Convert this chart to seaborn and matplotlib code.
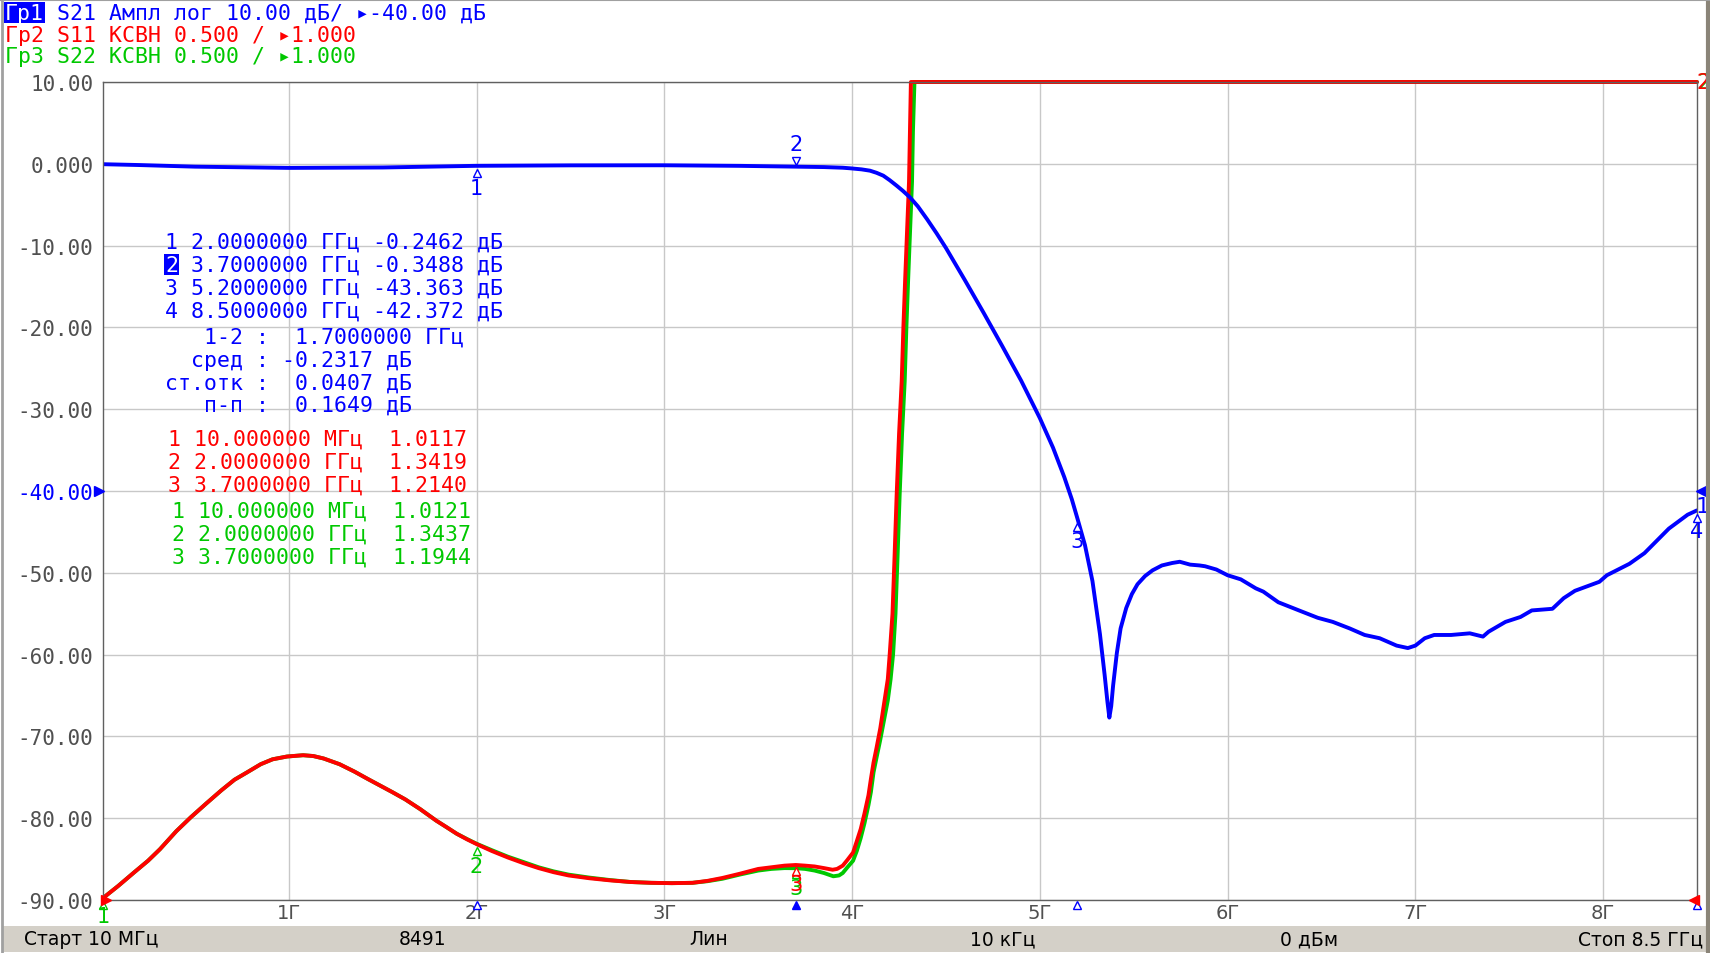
import numpy as np
import pandas as pd
import matplotlib
matplotlib.use("Agg")
import matplotlib.pyplot as plt
import seaborn as sns
from matplotlib.transforms import offset_copy, blended_transform_factory
from matplotlib.patches import Rectangle
from matplotlib.lines import Line2D

# ---------------- data ----------------
s21_freq = [0.01, 0.2, 0.5, 1.0, 1.5, 2.0, 2.5, 3.0, 3.4, 3.7, 3.85, 3.95, 3.99, 4.05, 4.095,
            4.13, 4.166, 4.2, 4.237, 4.27, 4.308, 4.35, 4.4, 4.45, 4.5, 4.6, 4.7, 4.8, 4.9,
            5.0, 5.07, 5.13, 5.17, 5.2, 5.24, 5.28, 5.32, 5.345, 5.36, 5.37, 5.38, 5.39,
            5.41, 5.43, 5.46, 5.49, 5.52, 5.56, 5.6, 5.65, 5.705, 5.745, 5.80, 5.85, 5.88,
            5.94, 6.0, 6.07, 6.15, 6.19, 6.27, 6.38, 6.48, 6.56, 6.65, 6.73, 6.81, 6.90,
            6.96, 7.0, 7.05, 7.10, 7.19, 7.29, 7.36, 7.39, 7.48, 7.56, 7.62, 7.73, 7.79,
            7.85, 7.98, 8.02, 8.14, 8.22, 8.35, 8.45, 8.5]
s21_db = [-0.05, -0.15, -0.35, -0.5, -0.45, -0.246, -0.19, -0.18, -0.25, -0.349, -0.4, -0.48,
          -0.55, -0.68, -0.84, -1.1, -1.45, -2.0, -2.67, -3.3, -4.1, -5.2, -6.8, -8.5, -10.3,
          -14.2, -18.2, -22.3, -26.5, -31.1, -34.7, -38.3, -41.0, -43.36, -46.6, -51.0,
          -57.5, -62.5, -65.8, -67.7, -66.3, -63.8, -59.8, -56.8, -54.3, -52.6, -51.4,
          -50.4, -49.7, -49.1, -48.8, -48.65, -49.0, -49.1, -49.2, -49.6, -50.3, -50.8,
          -51.9, -52.3, -53.6, -54.6, -55.5, -56.0, -56.8, -57.6, -58.0, -58.9, -59.2,
          -58.9, -58.0, -57.6, -57.6, -57.4, -57.8, -57.2, -56.0, -55.4, -54.6, -54.4,
          -53.1, -52.2, -51.1, -50.3, -48.9, -47.6, -44.6, -42.9, -42.37]

s11_freq = [0.01, 0.09, 0.177, 0.25, 0.313, 0.4, 0.477, 0.56, 0.64, 0.71, 0.777, 0.85, 0.913,
            0.99, 1.076, 1.13, 1.185, 1.27, 1.349, 1.42, 1.485, 1.55, 1.62, 1.70, 1.785,
            1.84, 1.894, 1.95, 2.0, 2.08, 2.166, 2.25, 2.33, 2.41, 2.49, 2.6, 2.71, 2.82,
            2.93, 3.04, 3.15, 3.23, 3.31, 3.40, 3.5, 3.57, 3.64, 3.7, 3.75, 3.8, 3.85, 3.896,
            3.92, 3.95, 3.975, 4.005, 4.025, 4.046, 4.066, 4.087, 4.1, 4.114, 4.13, 4.15,
            4.17, 4.19, 4.2, 4.215, 4.226, 4.237, 4.25, 4.264, 4.273, 4.282, 4.293, 4.303,
            4.308, 4.313, 8.5]
s11_vswr = [1.0117, 1.085, 1.17, 1.24, 1.31, 1.42, 1.505, 1.59, 1.67, 1.735, 1.78, 1.83,
            1.86, 1.877, 1.885, 1.88, 1.865, 1.83, 1.785, 1.74, 1.70, 1.66, 1.615, 1.555,
            1.485, 1.445, 1.405, 1.37, 1.3419, 1.30, 1.26, 1.225, 1.195, 1.17, 1.15, 1.133,
            1.12, 1.11, 1.105, 1.103, 1.105, 1.117, 1.135, 1.16, 1.19, 1.20, 1.21, 1.214,
            1.21, 1.205, 1.195, 1.185, 1.19, 1.21, 1.245, 1.29, 1.36, 1.435, 1.53, 1.64,
            1.74, 1.84, 1.93, 2.05, 2.2, 2.35, 2.5, 2.75, 3.1, 3.47, 3.85, 4.17, 4.5, 4.78,
            5.1, 5.39, 5.7, 6.0, 6.0]

s22_freq = [0.01, 0.09, 0.177, 0.25, 0.313, 0.4, 0.477, 0.56, 0.64, 0.71, 0.777, 0.85, 0.913,
            0.99, 1.076, 1.13, 1.185, 1.27, 1.349, 1.42, 1.485, 1.55, 1.62, 1.70, 1.785,
            1.84, 1.894, 1.95, 2.0, 2.08, 2.166, 2.25, 2.33, 2.41, 2.49, 2.6, 2.71, 2.82,
            2.93, 3.04, 3.15, 3.23, 3.31, 3.40, 3.5, 3.57, 3.64, 3.7, 3.75, 3.8, 3.85, 3.9,
            3.93, 3.95, 3.975, 4.005, 4.025, 4.046, 4.066, 4.087, 4.1, 4.114, 4.13, 4.15,
            4.17, 4.19, 4.205, 4.218, 4.231, 4.242, 4.253, 4.266, 4.28, 4.289, 4.298, 4.309,
            4.319, 4.324, 4.332, 8.5]
s22_vswr = [1.0121, 1.085, 1.17, 1.24, 1.31, 1.42, 1.505, 1.59, 1.67, 1.735, 1.78, 1.83,
            1.86, 1.877, 1.885, 1.88, 1.865, 1.83, 1.785, 1.74, 1.70, 1.66, 1.615, 1.555,
            1.485, 1.445, 1.405, 1.372, 1.3437, 1.305, 1.265, 1.232, 1.2, 1.175, 1.155,
            1.137, 1.122, 1.11, 1.105, 1.103, 1.105, 1.115, 1.13, 1.155, 1.18, 1.19, 1.195,
            1.1944, 1.19, 1.18, 1.165, 1.145, 1.15, 1.165, 1.2, 1.24, 1.3, 1.38, 1.47, 1.58,
            1.66, 1.78, 1.87, 1.98, 2.1, 2.22, 2.35, 2.5, 2.75, 3.1, 3.47, 3.85, 4.17, 4.5,
            4.78, 5.1, 5.39, 5.7, 6.0, 6.0]

s21_mk_freq = [2.0, 3.7, 5.2, 8.5]
s21_mk_db = [-0.2462, -0.3488, -43.363, -42.372]
s11_mk_freq = [0.01, 2.0, 3.7]
s11_mk_vswr = [1.0117, 1.3419, 1.2140]
s22_mk_freq = [0.01, 2.0, 3.7]
s22_mk_vswr = [1.0121, 1.3437, 1.1944]

y_ticks = [10, 0, -10, -20, -30, -40, -50, -60, -70, -80, -90]
y_tick_labels = ["10.00", "0.000", "-10.00", "-20.00", "-30.00", "-40.00", "-50.00",
                 "-60.00", "-70.00", "-80.00", "-90.00"]
x_ticks = [1, 2, 3, 4, 5, 6, 7, 8]
x_tick_labels = ["1Г", "2Г", "3Г", "4Г", "5Г", "6Г", "7Г", "8Г"]
vswr_grid = [1.0, 1.5, 2.0, 2.5, 3.0, 3.5, 4.0, 4.5, 5.0, 5.5, 6.0]

header = ["    S21 Ампл лог 10.00 дБ/ ▸-40.00 дБ",
          "Гр2 S11 КСВН 0.500 / ▸1.000",
          "Гр3 S22 КСВН 0.500 / ▸1.000"]
s21_rows = ["1 2.0000000 ГГц -0.2462 дБ",
            "  3.7000000 ГГц -0.3488 дБ",
            "3 5.2000000 ГГц -43.363 дБ",
            "4 8.5000000 ГГц -42.372 дБ"]
stat_rows = ["   1-2 :  1.7000000 ГГц",
             "  сред : -0.2317 дБ",
             "ст.отк :  0.0407 дБ",
             "   п-п :  0.1649 дБ"]
s11_rows = ["1 10.000000 МГц  1.0117",
            "2 2.0000000 ГГц  1.3419",
            "3 3.7000000 ГГц  1.2140"]
s22_rows = ["1 10.000000 МГц  1.0121",
            "2 2.0000000 ГГц  1.3437",
            "3 3.7000000 ГГц  1.1944"]
status = [("Старт 10 МГц", 24, "left"), ("8491", 423, "center"), ("Лин", 709, "center"),
          ("10 кГц", 1003, "center"), ("0 дБм", 1309, "center"), ("Стоп 8.5 ГГц", 1703, "right")]

BLUE = "#0000ff"
RED = "#ff0000"
GREEN = "#00c800"
GRAY = "#505050"

# ---------------- figure ----------------
sns.set_theme(style="white")
plt.rcParams["font.family"] = ["DejaVu Sans Mono", "DejaVu Sans"]

W, H = 1710, 954
fig = plt.figure(figsize=(W / 100, H / 100), dpi=100)
fig.patch.set_facecolor("white")
L, R, T, B = 103, 1697, 83, 901
rect = [L / W, 1 - B / H, (R - L) / W, (B - T) / H]

ax2 = fig.add_axes(rect)            # VSWR traces, grid
ax = fig.add_axes(rect, sharex=ax2)  # dB trace, labels
ax.set_zorder(ax2.get_zorder() + 1)
ax.patch.set_visible(False)
ax2.set_facecolor("white")

ax.set_xlim(0.01, 8.5)
ax.set_ylim(-90, 10)
ax2.set_ylim(1.0, 6.0)

ax2.set_xticks(x_ticks)
ax2.set_yticks(vswr_grid)
ax2.grid(True, color="#c8c8c8", lw=1.0)
ax2.tick_params(labelleft=False, labelbottom=False, length=0)
for s in ax2.spines.values():
    s.set_visible(False)

df22 = pd.DataFrame({"f": s22_freq, "v": s22_vswr})
df11 = pd.DataFrame({"f": s11_freq, "v": s11_vswr})
df21 = pd.DataFrame({"f": s21_freq, "db": s21_db})
sns.lineplot(data=df22, x="f", y="v", ax=ax2, color=GREEN, lw=2.8, estimator=None, sort=False)
sns.lineplot(data=df11, x="f", y="v", ax=ax2, color=RED, lw=2.8, estimator=None, sort=False)
for ln in ax2.lines:
    ln.set_clip_on(False)
    ln.set_solid_joinstyle("round")
sns.lineplot(data=df21, x="f", y="db", ax=ax, color=BLUE, lw=2.8, estimator=None, sort=False)
for ln in ax.lines:
    ln.set_solid_joinstyle("round")
ax2.set_xlabel("")
ax2.set_ylabel("")
ax.set_xlabel("")
ax.set_ylabel("")

ax.set_yticks(y_ticks)
ax.set_yticklabels(y_tick_labels, fontsize=15, color=GRAY, family=["DejaVu Sans Mono"])
ax.get_yticklabels()[y_ticks.index(-40)].set_color(BLUE)
ax.set_xticks(x_ticks)
ax.set_xticklabels(x_tick_labels, fontsize=14, color=GRAY, family=["DejaVu Sans"])
ax.tick_params(axis="y", length=0, pad=7)
ax.tick_params(axis="x", length=0, pad=2)
ax.grid(False)
for s in ax.spines.values():
    s.set_visible(True)
    s.set_color("#606060")
    s.set_linewidth(1.0)


def off(trans, dx, dy):
    return offset_copy(trans, fig=fig, x=dx, y=dy, units="dots")


def tri(a, x, y, marker, dx, dy, color, filled=False, trans=None, ms=6):
    t = trans if trans is not None else a.transData
    a.plot([x], [y], marker=marker, ms=ms, mew=1.0, color=color,
           mfc=color if filled else "white", mec=color, ls="none",
           transform=off(t, dx, dy), clip_on=False, zorder=6)


def lab(a, x, y, s, dx, dy, color, trans=None, size=15):
    t = trans if trans is not None else a.transData
    a.text(x, y, s, color=color, fontsize=size, ha="center", va="center",
           family=["DejaVu Sans"], transform=off(t, dx, dy), clip_on=False, zorder=7)


# S21 markers
tri(ax, s21_mk_freq[0], s21_mk_db[0], "^", 0, -7, BLUE)
lab(ax, s21_mk_freq[0], s21_mk_db[0], "1", 0, -22, BLUE)
tri(ax, s21_mk_freq[1], s21_mk_db[1], "v", 0, 6, BLUE)
lab(ax, s21_mk_freq[1], s21_mk_db[1], "2", 0, 23, BLUE)
tri(ax, s21_mk_freq[2], s21_mk_db[2], "^", 0, -8, BLUE)
lab(ax, s21_mk_freq[2], s21_mk_db[2], "3", 0, -22, BLUE)
tri(ax, s21_mk_freq[3], s21_mk_db[3], "^", 0, -8, BLUE)
lab(ax, s21_mk_freq[3], s21_mk_db[3], "4", 0, -21, BLUE)

# S11 / S22 markers
tri(ax2, s22_mk_freq[1], s22_mk_vswr[1], "^", 0, -7, GREEN)
lab(ax2, s22_mk_freq[1], s22_mk_vswr[1], "2", 0, -22, GREEN)
tri(ax2, s22_mk_freq[2], s22_mk_vswr[2], "^", 0, -6, GREEN)
tri(ax2, s11_mk_freq[2], s11_mk_vswr[2], "^", 0, -6, RED)
lab(ax2, s22_mk_freq[2], s22_mk_vswr[2], "3", 0, -20, GREEN)
lab(ax2, s11_mk_freq[2], s11_mk_vswr[2], "3", 0, -19, RED)

# bottom-edge marker indicators
bx = blended_transform_factory(ax.transData, ax.transAxes)
tri(ax, s22_mk_freq[0], 0, "^", 0, -5, GREEN, trans=bx)
lab(ax, s22_mk_freq[0], 0, "1", 0, -16, GREEN, trans=bx)
for f in [s21_mk_freq[0], s21_mk_freq[2], s21_mk_freq[3]]:
    tri(ax, f, 0, "^", 0, -5, BLUE, trans=bx)
tri(ax, s21_mk_freq[1], 0, "^", 0, -5, BLUE, filled=True, trans=bx)

# reference level indicators
by = blended_transform_factory(ax.transAxes, ax.transData)
tri(ax, 0, -40, ">", -4, 0, BLUE, filled=True, trans=by, ms=7)
tri(ax, 1, -40, "<", 4, 0, BLUE, filled=True, trans=by, ms=7)
tri(ax, 0, -90, ">", 3, 0, RED, filled=True, trans=by, ms=7)
tri(ax, 1, -90, "<", -3, 0, RED, filled=True, trans=by, ms=7)
lab(ax, 1, s21_db[-1], "1", 6, 4, BLUE, trans=by, size=16)
lab(ax, 1, 10, "2", 7, 0, GREEN, trans=by, size=15)
lab(ax, 1, 10, "2", 6, 0, RED, trans=by, size=15)


# ---------------- texts ----------------
def ftext(x, y, s, color, size=15.5, ha="left", family=None, **kw):
    fig.text(x / W, 1 - y / H, s, color=color, fontsize=size, ha=ha, va="center",
             family=family or ["DejaVu Sans Mono", "DejaVu Sans"], **kw)


ftext(5, 13.5, header[0], BLUE)
ftext(5, 13.5, "Гр1", "white", bbox=dict(facecolor=BLUE, edgecolor="none", pad=0.6))
ftext(5, 35.7, header[1], RED)
ftext(5, 57.3, header[2], GREEN)

for s, y in zip(s21_rows, [243, 265.7, 289, 312]):
    ftext(165, y, s, BLUE)
ftext(165, 265.7, "2", "white", bbox=dict(facecolor=BLUE, edgecolor="none", pad=0.4))
for s, y in zip(stat_rows, [338, 361, 384, 406]):
    ftext(165, y, s, BLUE)
for s, y in zip(s11_rows, [440, 463, 486]):
    ftext(168, y, s, RED)
for s, y in zip(s22_rows, [512, 535, 558]):
    ftext(172, y, s, GREEN)

# status bar
fig.add_artist(Rectangle((3 / W, 1 - 953 / H), 1704 / W, 26 / H, transform=fig.transFigure,
                         facecolor="#d4d0c8", edgecolor="none", zorder=0))
for s, x, ha in status:
    ftext(x, 940, s, "black", size=13.5, ha=ha, family=["DejaVu Sans"])

# window frame
fig.add_artist(Line2D([1.5 / W, 1.5 / W], [0, 1], transform=fig.transFigure, color="#a0a0a0", lw=2))
fig.add_artist(Line2D([1707.5 / W, 1707.5 / W], [0, 1], transform=fig.transFigure, color="#8a8478", lw=3))
fig.add_artist(Line2D([0, 1], [1 - 0.5 / H, 1 - 0.5 / H], transform=fig.transFigure, color="#a0a0a0", lw=1.5))

fig.savefig("out.png", dpi=100, facecolor="white")
